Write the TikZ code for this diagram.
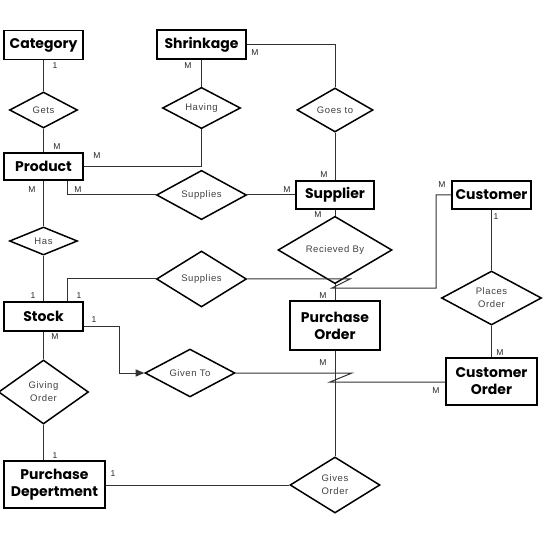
\documentclass[tikz,border=0pt]{standalone}
\usepackage{fontspec}
\setmainfont{Liberation Sans}
\newfontfamily\entfont{Poppins}
\newfontfamily\relfont[LetterSpace=6]{Liberation Sans}
\usetikzlibrary{shapes,arrows,positioning}

\begin{document}
\begin{tikzpicture}[x=1pt,y=-1pt,font=\footnotesize]
\tikzset{
    %Define standard arrow tip
    >=triangle 45,
    %Define style for entities
    ent/.style={
           rectangle,
           draw=black, line width=1.5pt,
           inner sep=0pt,
           align=center,
           font=\entfont\bfseries\fontsize{14}{17}\selectfont,
           },
    %Define style for relations
    rel/.style={
           diamond,
           draw=black, line width=1.5pt,
           inner sep=0pt,
           align=center,
           text=black!75,
           font=\relfont\fontsize{9.5}{13}\selectfont,
           },
    % Define line style
    pil/.style={
           draw=black!80,
           line width=1pt,},
    card/.style={
           inner sep=0pt,
           text=black!85,
           font=\fontsize{8.5}{10}\selectfont,}
}
	\useasboundingbox (0,0) rectangle (556,534);
 %entities
	\node[ent,minimum width=79pt,minimum height=29pt] (category) at (43.5,45) {Category};
	\node[ent,minimum width=89pt,minimum height=29pt] (shrink) at (201.5,44.5) {Shrinkage};
	\node[ent,minimum width=79pt,minimum height=27pt] (product) at (43.5,166.5) {Product};
	\node[ent,minimum width=78pt,minimum height=28pt] (supplier) at (335,195) {Supplier};
	\node[ent,minimum width=79pt,minimum height=28pt] (customer) at (491.5,195) {Customer};
	\node[ent,minimum width=79pt,minimum height=29pt] (stock) at (43.5,316.5) {Stock};
	\node[ent,minimum width=90pt,minimum height=49pt] (porder) at (335,325.5) {Purchase\\Order};
	\node[ent,minimum width=91pt,minimum height=47pt] (corder) at (491.5,381.5) {Customer\\Order};
	\node[ent,minimum width=101pt,minimum height=47pt] (pdept) at (54.5,484.5) {Purchase\\Depertment};

 %relations
	\node[rel,minimum width=68pt,minimum height=36pt] (gets) at (43.5,110) {Gets};
	\node[rel,minimum width=78pt,minimum height=34pt] (having) at (201.5,108) {Having};
	\node[rel,minimum width=76pt,minimum height=44pt] (goesto) at (335,110) {Goes to};
	\node[rel,minimum width=90pt,minimum height=36pt] (supplies) at (201.5,195) {Supplies};
	\node[rel,minimum width=68pt,minimum height=28pt] (has) at (43.5,241) {Has};
	\node[rel,minimum width=90pt,minimum height=56pt] (supplies2) at (201.5,279) {Supplies};
	\node[rel,minimum width=114pt,minimum height=54pt] (recieved) at (335,250) {Recieved By};
	\node[rel,minimum width=100pt,minimum height=54pt] (places) at (491.5,298) {Places\\Order};
	\node[rel,minimum width=90pt,minimum height=44pt] (givento) at (190,373) {Given To};
	\node[rel,minimum width=90pt,minimum height=64pt] (giving) at (43.5,392) {Giving\\Order};
	\node[rel,minimum width=90pt,minimum height=56pt] (gives) at (335,485) {Gives\\Order};

 %bends
	\coordinate (jog1a) at (350,279);
	\coordinate (jog1b) at (332,288);
	\coordinate (cbend) at (436,195);
	\coordinate (jog2a) at (352,373);
	\coordinate (jog2b) at (330,382);

 %connectors
	\path (category.south) edge[pil] (gets.north);
	\path (gets.south) edge[pil] (product.north);
	\path (shrink.south) edge[pil] (having.north);
	\draw[pil] (having.south) |- (product.east);
	\draw[pil] (shrink.east) -| (goesto.north);
	\path (goesto.south) edge[pil] (supplier.north);
	\path (product.south) edge[pil] (has.north);
	\path (has.south) edge[pil] (stock.north);
	\draw[pil] ([xshift=23.5pt]product.south) |- (supplies.west);
	\path (supplies.east) edge[pil] (supplier.west);
	\draw[pil] ([xshift=23.5pt]stock.north) |- (supplies2.west);
	\path (supplier.south) edge[pil] (recieved.north);
	\path (recieved.south) edge[pil] (porder.north);
	\draw[pil] (supplies2.east) -- (jog1a) -- (jog1b) -- (jog1b -| cbend) |- (customer.west);
	\draw[pil,->] ([yshift=-9.5pt]stock.east) -| ([xshift=-25pt]givento.west) -- (givento.west);
	\draw[pil] (givento.east) -- (jog2a) -- (jog2b) -- (jog2b -| corder.west);
	\path (customer.south) edge[pil] (places.north);
	\path (places.south) edge[pil] (corder.north);
	\path (stock.south) edge[pil] (giving.north);
	\draw[pil] (giving.south) -- (giving.south |- pdept.north);
	\draw[pil] (pdept.east |- gives.west) -- (gives.west);
	\path (porder.south) edge[pil] (gives.north);

 %cardinalities
	\node[card] (c1) at (55,66) {1};
	\node[card] (c2) at (188,66) {M};
	\node[card] (c3) at (255,53) {M};
	\node[card] (c4) at (57,147) {M};
	\node[card] (c5) at (97,156) {M};
	\node[card] (c6) at (32,190) {M};
	\node[card] (c7) at (78,190) {M};
	\node[card] (c8) at (324,175) {M};
	\node[card] (c9) at (287,190) {M};
	\node[card] (c10) at (318,215) {M};
	\node[card] (c11) at (442,185) {M};
	\node[card] (c12) at (496,217) {1};
	\node[card] (c13) at (323,296) {M};
	\node[card] (c14) at (500,353) {M};
	\node[card] (c15) at (33,296) {1};
	\node[card] (c16) at (79,296) {1};
	\node[card] (c17) at (94,320) {1};
	\node[card] (c18) at (55,337) {M};
	\node[card] (c19) at (323,363) {M};
	\node[card] (c20) at (436,391) {M};
	\node[card] (c21) at (55,456) {1};
	\node[card] (c22) at (113,474) {1};
\end{tikzpicture}
\end{document}
